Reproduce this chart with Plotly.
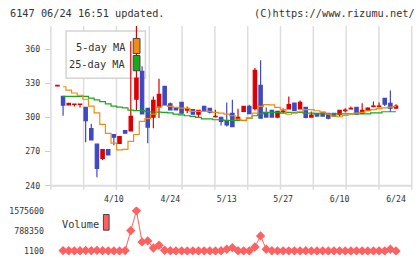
import plotly.graph_objects as go

# reference pixel space
RW, RH = 420, 259
# page size (the capture is scaled from a slightly larger viewport)
FW, FH = 427, 266
S = FH / RH

dates = ["3/27","3/28","3/29","4/1","4/2","4/3","4/4","4/5","4/8","4/9",
         "4/10","4/11","4/12","4/15","4/16","4/17","4/18","4/19","4/22","4/23",
         "4/24","4/25","4/26","4/30","5/1","5/2","5/7","5/8","5/9","5/10",
         "5/13","5/14","5/15","5/16","5/17","5/20","5/21","5/22","5/23","5/24",
         "5/27","5/28","5/29","5/30","5/31","6/3","6/4","6/5","6/6","6/7",
         "6/10","6/11","6/12","6/13","6/14","6/17","6/18","6/19","6/20","6/21",
         "6/24"]

opens = [327.8,318.5,311.0,311.5,311.5,308.8,290.3,276.5,264.0,271.8,
         285.0,277.3,288.5,288.2,316.1,340.6,308.0,300.3,309.1,327.3,
         312.0,308.5,313.2,306.5,307.0,302.9,309.7,308.0,300.6,300.0,
         297.2,303.5,298.0,305.3,309.7,307.7,328.2,303.8,306.2,300.3,
         305.0,307.5,312.6,307.5,308.8,300.3,303.5,304.4,303.5,303.5,
         302.4,306.0,307.5,308.8,303.5,306.2,309.5,309.5,316.8,312.4,
         308.2]
highs = [328.2,318.5,313.0,311.8,311.8,308.8,294.4,276.5,271.8,271.8,
         285.0,283.2,288.5,367.0,385.0,345.0,308.0,318.5,334.0,327.3,
         313.2,308.5,313.2,309.7,307.0,306.2,309.7,308.0,306.8,300.0,
         313.2,315.6,307.7,309.7,311.2,343.5,350.3,308.8,306.2,305.3,
         308.2,318.5,312.6,315.0,308.8,305.3,303.5,304.4,303.5,303.5,
         306.2,308.2,309.7,308.8,312.4,309.0,314.1,313.2,316.8,323.8,
         311.7]
lows = [327.8,301.5,311.0,309.7,308.8,278.2,280.3,247.4,262.6,267.0,
        275.6,277.3,286.2,288.2,306.0,303.2,277.3,290.6,299.5,311.2,
        306.7,306.7,303.8,303.8,302.9,300.0,305.3,303.5,300.0,292.9,
        292.0,292.0,298.0,305.3,303.3,306.2,299.4,300.3,300.3,299.4,
        303.8,307.5,306.2,307.5,299.4,300.3,301.2,301.2,298.5,300.6,
        300.3,304.4,307.5,302.9,303.5,306.2,309.5,309.5,310.0,304.7,
        308.2]
closes = [328.2,310.8,312.5,311.8,311.8,297.3,280.3,255.3,271.8,267.0,
          282.6,283.2,286.2,300.9,334.7,303.2,291.5,315.0,320.3,311.2,
          306.7,306.7,303.8,307.2,302.9,306.2,305.3,304.7,301.0,296.5,
          293.5,292.0,300.0,309.7,303.3,341.5,299.4,300.3,300.3,305.3,
          305.5,311.2,306.2,313.2,300.0,302.0,301.2,301.2,299.4,301.2,
          306.2,306.4,307.9,302.9,306.2,308.2,309.9,309.9,311.7,308.2,
          310.0]

ma5 = [None,327.0,324.0,321.5,319.5,316.0,310.0,304.0,294.0,286.0,
       277.5,271.5,272.0,279.0,285.0,296.5,299.0,303.0,309.0,310.5,
       309.7,308.8,308.2,308.0,305.3,305.3,305.3,305.3,304.4,303.8,
       302.9,301.5,298.5,297.1,299.5,303.8,309.7,311.2,311.0,308.8,
       306.8,302.8,303.8,305.0,306.8,306.8,305.9,304.7,303.0,301.2,
       300.6,301.8,302.9,303.8,304.4,305.9,306.8,307.7,308.5,309.0,
       309.5]
ma25 = [None,318.5,318.5,318.5,318.5,318.5,317.0,315.5,314.0,312.0,
        310.0,309.0,308.5,306.5,306.0,306.0,305.0,304.8,304.6,304.5,
        304.0,303.0,302.3,301.5,300.9,300.0,298.8,298.8,298.0,298.0,
        297.4,297.4,297.4,297.4,299.4,301.5,303.2,304.4,304.4,304.4,
        303.8,304.4,304.4,304.4,303.8,303.8,303.2,303.2,303.2,303.2,
        303.2,303.2,303.2,303.2,303.2,303.2,304.1,304.1,305.0,305.0,
        305.0]

volume = [None,15000,8000,6000,9000,20000,12000,25000,10000,6000,
          5000,4000,15000,800000,1575600,355000,395000,119000,225000,30000,
          9000,6000,5000,4000,7000,3000,6000,5000,4000,8000,
          70000,130000,9000,6000,5000,158000,590000,70000,8000,6000,
          5000,7000,6000,5000,9000,4000,3000,5000,4000,6000,
          5000,4000,3000,6000,5000,4000,3000,5000,4000,70000,
          1100]

xtick_labels = ["4/10", "4/24", "5/13", "5/27", "6/10", "6/24"]
price_ticks = [240, 270, 300, 330, 360]
vol_ticks = [1100, 788350, 1575600]

UP = "#dd0000"
DOWN = "#4048c4"
ORANGE = "#f28c0f"
GREEN = "#1aa81a"
VOLC = "#ff6060"
GRID = "#dddddd"
TXT = "#333333"
MONO = "DejaVu Sans Mono"

def X(px):
    return px / RW

def Y(py):
    return 1 - py / RH

fig = go.Figure()

fig.add_trace(go.Scatter(x=dates, y=ma25, mode="lines", line=dict(color=GREEN, width=1.2, shape="hvh"),
                         showlegend=False, xaxis="x", yaxis="y"))
fig.add_trace(go.Scatter(x=dates, y=ma5, mode="lines", line=dict(color=ORANGE, width=1.2, shape="hvh"),
                         showlegend=False, xaxis="x", yaxis="y"))
fig.add_trace(go.Candlestick(x=dates, open=opens, high=highs, low=lows, close=closes,
                             increasing=dict(line=dict(color=UP, width=1.2), fillcolor=UP),
                             decreasing=dict(line=dict(color=DOWN, width=1.2), fillcolor=DOWN),
                             whiskerwidth=0, showlegend=False, xaxis="x", yaxis="y"))

fig.add_trace(go.Scatter(x=dates, y=volume, mode="lines+markers",
                         line=dict(color=VOLC, width=1),
                         marker=dict(symbol="diamond", size=7.2, color=VOLC),
                         showlegend=False, xaxis="x2", yaxis="y2"))

xr = [-1.17, 62.79]
fig.update_layout(
    width=FW, height=FH, autosize=False,
    margin=dict(l=0, r=0, t=0, b=0),
    paper_bgcolor="white", plot_bgcolor="white",
    boxgap=0.15,
    xaxis=dict(domain=[X(50), X(405)], type="category", range=xr,
               showgrid=False, zeroline=False, showline=False,
               tickvals=xtick_labels, ticktext=xtick_labels, ticks="",
               ticklabelstandoff=7,
               tickfont=dict(family=MONO, size=8 * S, color=TXT),
               rangeslider=dict(visible=False), anchor="y"),
    yaxis=dict(domain=[Y(184), Y(25)], range=[240, 380.3],
               showgrid=False, zeroline=False, showline=False,
               tickvals=price_ticks, ticks="outside", ticklen=5, tickcolor="#cccccc",
               ticklabelstandoff=3,
               tickfont=dict(family=MONO, size=8 * S, color=TXT), anchor="x"),
    xaxis2=dict(domain=[X(50), X(405)], type="category", range=xr, matches="x",
                showgrid=False, zeroline=False, showline=False, showticklabels=False,
                ticks="", anchor="y2"),
    yaxis2=dict(domain=[Y(253), Y(205)], range=[-156350, 1733050],
                showgrid=False, zeroline=False, showline=False,
                tickvals=vol_ticks, ticktext=[str(v) for v in vol_ticks], ticks="",
                ticklabelstandoff=6,
                tickfont=dict(family=MONO, size=8 * S, color=TXT), anchor="x2"),
)

shapes = []
for k in range(12):
    px = 50 + k * (355 / 11)
    shapes.append(dict(type="line", xref="paper", yref="paper", x0=X(px), x1=X(px),
                       y0=Y(188), y1=Y(25), line=dict(color=GRID, width=1.5), layer="below"))
shapes.append(dict(type="line", xref="paper", yref="paper", x0=X(50), x1=X(405),
                   y0=Y(184), y1=Y(184), line=dict(color=GRID, width=2), layer="below"))
shapes.append(dict(type="rect", xref="paper", yref="paper", x0=X(65), x1=X(143),
                   y0=Y(77), y1=Y(30), line=dict(color="#d4d4d4", width=1.5),
                   fillcolor="white", layer="below"))
shapes.append(dict(type="rect", xref="paper", yref="paper", x0=X(131), x1=X(137.7),
                   y0=Y(52.3), y1=Y(37.3), line=dict(color="#444444", width=1),
                   fillcolor=ORANGE, layer="above"))
shapes.append(dict(type="rect", xref="paper", yref="paper", x0=X(131), x1=X(137.7),
                   y0=Y(69.5), y1=Y(54.3), line=dict(color="#444444", width=1),
                   fillcolor=GREEN, layer="above"))
shapes.append(dict(type="rect", xref="paper", yref="paper", x0=X(101.7), x1=X(107.3),
                   y0=Y(228.3), y1=Y(212.7), line=dict(color="#444444", width=1),
                   fillcolor=VOLC, layer="above"))
fig.update_layout(shapes=shapes)

ann = [
    dict(text="6147 06/24 16:51 updated.", x=X(8), y=Y(12), xanchor="left", yanchor="middle",
         font=dict(family=MONO, size=10 * S, color=TXT)),
    dict(text="(C)https://www.rizumu.net/", x=X(410), y=Y(12), xanchor="right", yanchor="middle",
         font=dict(family=MONO, size=10 * S, color=TXT)),
    dict(text="5-day MA", x=X(124.5), y=Y(45.5), xanchor="right", yanchor="middle",
         font=dict(family=MONO, size=10 * S, color=TXT)),
    dict(text="25-day MA", x=X(124.5), y=Y(62.5), xanchor="right", yanchor="middle",
         font=dict(family=MONO, size=10 * S, color=TXT)),
    dict(text="Volume", x=X(59), y=Y(222.5), xanchor="left", yanchor="middle",
         font=dict(family=MONO, size=10 * S, color=TXT)),
]
for a in ann:
    a.update(xref="paper", yref="paper", showarrow=False)
fig.update_layout(annotations=ann)

fig.write_html("out.html", config={"displayModeBar": False, "responsive": False},
               post_script="var h=document.documentElement,b=document.body;"
                           "h.style.margin='0';h.style.padding='0';h.style.overflow='hidden';"
                           "b.style.margin='0';b.style.padding='0';b.style.overflow='hidden';")
